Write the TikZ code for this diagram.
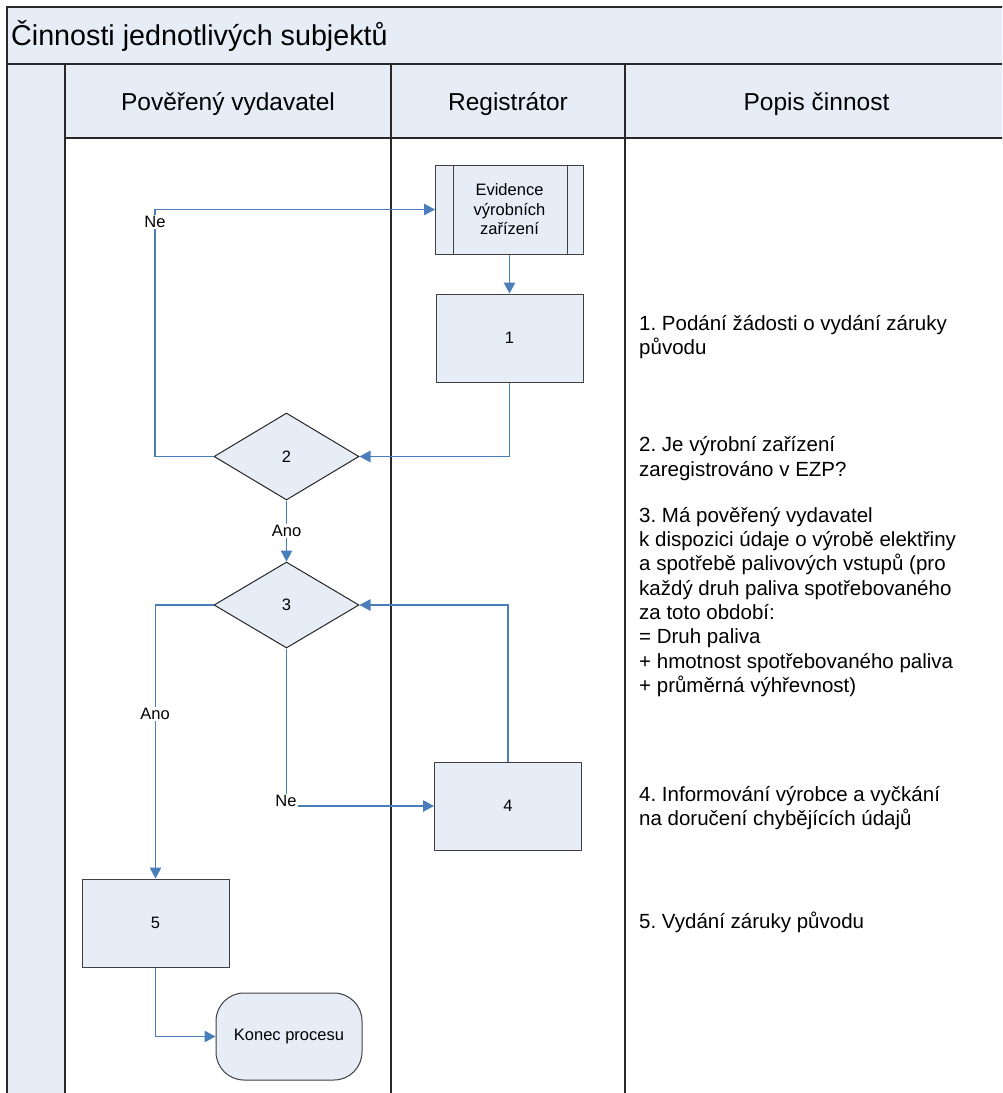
\documentclass[tikz,border=0pt]{standalone}
\usepackage{fontspec}
\setmainfont{Liberation Sans}
\usetikzlibrary{arrows.meta,shapes.geometric}
\definecolor{lane}{RGB}{230,237,247}
\definecolor{connblue}{RGB}{74,126,187}
\definecolor{frame}{RGB}{40,40,40}
\frenchspacing
\begin{document}
\begin{tikzpicture}[x=1pt,y=-1pt,
  frameline/.style={draw=frame,line width=1.3pt},
  box/.style={draw=black!75,fill=lane,line width=1pt,minimum width=147pt,minimum height=88pt,inner sep=0pt,font=\fontsize{16.5}{19.5}\selectfont,align=center},
  dec/.style={diamond,draw=black!85,fill=lane,line width=1pt,minimum width=145pt,minimum height=87pt,inner sep=0pt,font=\fontsize{16.5}{19.5}\selectfont},
  flow/.style={draw=connblue,line width=1.1pt,-{Triangle[length=11pt,width=11.5pt]}},
  lbl/.style={fill=white,inner sep=1pt,font=\fontsize{16.5}{19.5}\selectfont},
  hdr/.style={font=\fontsize{24.5}{29}\selectfont,anchor=base,inner sep=0pt},
  desc/.style={anchor=north west,inner sep=0pt,align=left,font=\fontsize{20.5}{24.3}\selectfont}
]
\useasboundingbox (0,0) rectangle (1002,1093);
\clip (0,0) rectangle (1002,1093);
% backgrounds
\fill[lane] (7,7) rectangle (1010,64);
\fill[lane] (7,64) rectangle (65,1095);
\fill[lane] (65,64) rectangle (1010,138);
% frame lines
\draw[frameline] (1010,7) -- (7,7) -- (7,1095);
\draw[frameline,line width=2pt] (7,64) -- (1010,64);
\draw[frameline] (65,64) -- (65,1095);
\draw[frameline] (65,138) -- (1010,138);
\draw[frameline] (391,64) -- (391,1095);
\draw[frameline] (625,64) -- (625,1095);
% title and headers
\node[anchor=base west,inner sep=0pt,font=\fontsize{28.7}{34}\selectfont] (title) at (11,45) {Činnosti jednotlivých subjektů};
\node[hdr] (h1) at (228,110) {Pověřený vydavatel};
\node[hdr] (h2) at (508,110) {Registrátor};
\node[hdr] (h3) at (816.5,110) {Popis činnost};
% flow nodes
\node[box,minimum width=148pt,minimum height=89pt] (ev) at (509.5,209.5) {Evidence\\výrobních\\zařízení};
\draw[draw=black!75,line width=1pt] ([xshift=18pt]ev.north west) -- ([xshift=18pt]ev.south west);
\draw[draw=black!75,line width=1pt] ([xshift=-17pt]ev.north east) -- ([xshift=-17pt]ev.south east);
\node[box] (b1) at (509.5,338) {1};
\node[dec] (d2) at (286.5,456.5) {2};
\node[dec,minimum height=86pt] (d3) at (286.5,605) {3};
\node[box] (b4) at (508,806) {4};
\node[box] (b5) at (155.5,923) {5};
\node[box,rounded corners=28pt,minimum width=146pt,minimum height=87pt] (fin) at (289,1036.5) {Konec procesu};
% connectors
\coordinate (neTurn) at (155,209.5);
\draw[flow] (d2.west) -| (neTurn) -- (ev.west);
\node[lbl] (ne1) at (155,222) {Ne};
\draw[flow] (ev.south) -- (b1.north);
\draw[flow] (b1.south) |- (d2.east);
\draw[flow] (d2.south) -- node[lbl] (ano1) {Ano} (d3.north);
\draw[flow] (d3.west) -| (b5.north);
\node[lbl] (ano2) at (155,714) {Ano};
\draw[flow] (d3.south) |- (b4.west);
\node[lbl] (ne2) at (286,801) {Ne};
\draw[flow] (b4.north) |- (d3.east);
\draw[flow] (b5.south) |- (fin.west);
% descriptions
\node[desc] (t1) at (639,313) {\strut 1. Podání žádosti o vydání záruky\\původu};
\node[desc] (t2) at (639,434.7) {\strut 2. Je výrobní zařízení\\zaregistrováno v EZP?};
\node[desc] (t3) at (639,505) {\strut 3. Má pověřený vydavatel\\k dispozici údaje o výrobě elektřiny\\a spotřebě palivových vstupů (pro\\každý druh paliva spotřebovaného\\za toto období:\\= Druh paliva\\+ hmotnost spotřebovaného paliva\\+ průměrná výhřevnost)};
\node[desc] (t4) at (639,784) {\strut 4. Informování výrobce a vyčkání\\na doručení chybějících údajů};
\node[desc] (t5) at (639,911.7) {\strut 5. Vydání záruky původu};
\end{tikzpicture}
\end{document}
